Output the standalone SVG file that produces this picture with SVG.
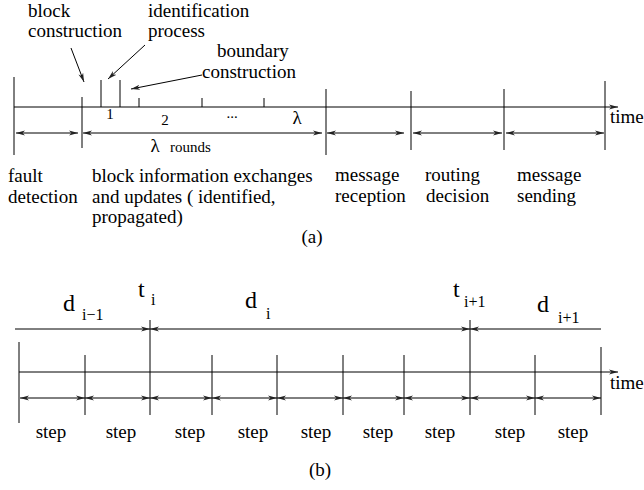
<svg xmlns="http://www.w3.org/2000/svg" width="644" height="490" viewBox="0 0 644 490">
<style>
  text { font-family: "Liberation Serif", "Times New Roman", "DejaVu Serif", serif; fill: #000; }
  .t { font-size: 19px; }
  .s { font-size: 15px; }
  .big { font-size: 24px; }
  .sub { font-size: 16px; }
  line { stroke: #000; stroke-width: 1; fill: none; }
  .a2 { marker-start: url(#ah); marker-end: url(#ah); }
  .ae { marker-end: url(#ah); }
  .as { marker-start: url(#ah); }
</style>
<defs>
  <marker id="ah" markerUnits="userSpaceOnUse" markerWidth="10" markerHeight="6" refX="9" refY="3" orient="auto-start-reverse" viewBox="0 0 10 6">
    <path d="M0,0.5 L9,3 L0,5.5 L2.5,3 z" fill="#222" stroke="none"/>
  </marker>
</defs>
<rect width="644" height="490" fill="#fff"/>

<!-- ================= (a) ================= -->
<g id="part-a">
  <g id="a-axis">
    <line x1="14" y1="107" x2="618" y2="107" class="ae"/>
    <text class="t" x="610" y="123">time</text>
  </g>
  <g id="a-ticks">
    <line x1="14" y1="77" x2="14" y2="155"/>
    <line x1="82" y1="97" x2="82" y2="148"/>
    <line x1="101" y1="80" x2="101" y2="107"/>
    <line x1="120" y1="80" x2="120" y2="107"/>
    <line x1="139" y1="98" x2="139" y2="107"/>
    <line x1="202" y1="98" x2="202" y2="107"/>
    <line x1="264" y1="98" x2="264" y2="107"/>
    <line x1="326" y1="89" x2="326" y2="155"/>
    <line x1="411" y1="91" x2="411" y2="150"/>
    <line x1="504" y1="89" x2="504" y2="150"/>
    <line x1="605" y1="81" x2="605" y2="150"/>
  </g>
  <g id="a-round-labels">
    <text class="s" x="110" y="119" text-anchor="middle">1</text>
    <text class="s" x="165" y="125" text-anchor="middle">2</text>
    <text class="s" x="232" y="118" text-anchor="middle">...</text>
    <text class="t" x="297" y="124" text-anchor="middle">λ</text>
    <text class="t" x="155" y="152" text-anchor="middle">λ</text>
    <text class="s" x="170" y="152">rounds</text>
  </g>
  <g id="a-top-labels">
    <text class="t" x="28" y="17">block</text>
    <text class="t" x="28" y="37">construction</text>
    <text class="t" x="148" y="17">identification</text>
    <text class="t" x="148" y="37">process</text>
    <text class="t" x="217" y="57">boundary</text>
    <text class="t" x="202" y="78">construction</text>
  </g>
  <g id="a-phase-labels">
    <text class="t" x="8" y="182">fault</text>
    <text class="t" x="8" y="203">detection</text>
    <text class="t" x="92" y="182">block information exchanges</text>
    <text class="t" x="92" y="203">and updates ( identified,</text>
    <text class="t" x="92" y="223">propagated)</text>
    <text class="t" x="335" y="181">message</text>
    <text class="t" x="335" y="202">reception</text>
    <text class="t" x="425" y="181">routing</text>
    <text class="t" x="426" y="202">decision</text>
    <text class="t" x="517" y="181">message</text>
    <text class="t" x="517" y="202">sending</text>
    <text class="t" x="312" y="243" text-anchor="middle">(a)</text>
  </g>
</g>

<!-- ================= (b) ================= -->
<g id="part-b">
  <g id="b-axis">
    <line x1="19" y1="372" x2="618" y2="372" class="ae"/>
    <text class="t" x="610" y="389">time</text>
  </g>
  <g id="b-ticks">
    <line x1="19" y1="342" x2="19" y2="423"/>
    <line x1="85" y1="355" x2="85" y2="415"/>
    <line x1="150" y1="320" x2="150" y2="415"/>
    <line x1="212" y1="355" x2="212" y2="415"/>
    <line x1="277" y1="355" x2="277" y2="415"/>
    <line x1="343" y1="355" x2="343" y2="415"/>
    <line x1="404" y1="355" x2="404" y2="415"/>
    <line x1="470" y1="320" x2="470" y2="415"/>
    <line x1="535" y1="355" x2="535" y2="415"/>
    <line x1="601" y1="347" x2="601" y2="415"/>
  </g>
  <g id="b-labels">
    <text class="big" x="63" y="311">d</text>
    <text class="sub" x="82" y="320">i−1</text>
    <text class="big" x="138" y="297">t</text>
    <text class="sub" x="151" y="305">i</text>
    <text class="big" x="245" y="308">d</text>
    <text class="sub" x="266" y="319">i</text>
    <text class="big" x="453" y="297">t</text>
    <text class="sub" x="464" y="307">i+1</text>
    <text class="big" x="537" y="312">d</text>
    <text class="sub" x="558" y="323">i+1</text>
  </g>
  <g id="b-steps">
    <text class="t" x="51" y="438" text-anchor="middle">step</text>
    <text class="t" x="121" y="438" text-anchor="middle">step</text>
    <text class="t" x="190" y="438" text-anchor="middle">step</text>
    <text class="t" x="253" y="438" text-anchor="middle">step</text>
    <text class="t" x="316" y="438" text-anchor="middle">step</text>
    <text class="t" x="378" y="438" text-anchor="middle">step</text>
    <text class="t" x="440" y="438" text-anchor="middle">step</text>
    <text class="t" x="510" y="438" text-anchor="middle">step</text>
    <text class="t" x="573" y="438" text-anchor="middle">step</text>
    <text class="t" x="320" y="476" text-anchor="middle">(b)</text>
  </g>
</g>

<!-- ================= connectors ================= -->
<g id="connectors">
  <line x1="71" y1="48" x2="84" y2="82" class="ae"/>
  <line x1="145" y1="45" x2="108" y2="79" class="ae"/>
  <line x1="202" y1="75" x2="131" y2="89" class="ae"/>
  <line x1="16" y1="133" x2="78" y2="133" class="a2"/>
  <line x1="83" y1="133" x2="322" y2="133" class="a2"/>
  <line x1="327" y1="133" x2="404" y2="133" class="a2"/>
  <line x1="413" y1="133" x2="502" y2="133" class="a2"/>
  <line x1="506" y1="133" x2="604" y2="133" class="a2"/>
  <line x1="15" y1="329" x2="150" y2="329" class="ae"/>
  <line x1="150" y1="329" x2="470" y2="329" class="a2"/>
  <line x1="470" y1="329" x2="601" y2="329" class="as"/>
  <line x1="20" y1="398" x2="85" y2="398" class="a2"/>
  <line x1="85" y1="398" x2="150" y2="398" class="a2"/>
  <line x1="150" y1="398" x2="212" y2="398" class="a2"/>
  <line x1="212" y1="398" x2="277" y2="398" class="a2"/>
  <line x1="277" y1="398" x2="343" y2="398" class="a2"/>
  <line x1="343" y1="398" x2="404" y2="398" class="a2"/>
  <line x1="404" y1="398" x2="470" y2="398" class="a2"/>
  <line x1="470" y1="398" x2="535" y2="398" class="a2"/>
  <line x1="535" y1="398" x2="601" y2="398" class="a2"/>
</g>
</svg>
